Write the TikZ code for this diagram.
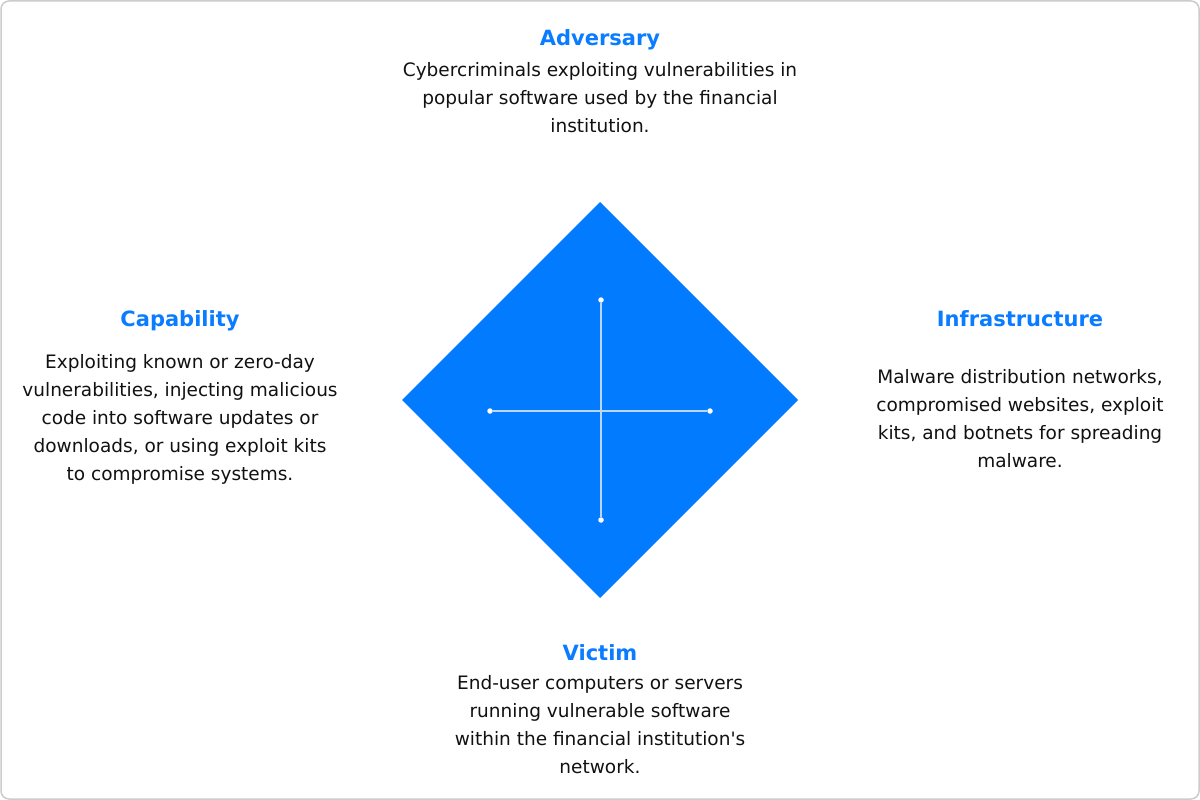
\documentclass[tikz,border=0pt]{standalone}
\usepackage{fontspec}
\setmainfont{DejaVu Sans}
\definecolor{dblue}{HTML}{037BFF}
\definecolor{tblue}{HTML}{0A7CFF}
\definecolor{txt}{HTML}{111111}
\definecolor{frame}{HTML}{CCCCCC}
\definecolor{crossc}{HTML}{B8D6FF}
\begin{document}
\begin{tikzpicture}[x=1pt,y=-1pt,
  title/.style={anchor=base,inner sep=0pt,text=tblue,font=\fontsize{21}{26}\selectfont\bfseries},
  body/.style={anchor=north,inner sep=0pt,align=center,text=txt,font=\fontsize{18.5}{28}\selectfont},
  dot/.style={circle,fill=white,inner sep=0pt,minimum size=5.5pt}]
\useasboundingbox (0,0) rectangle (1200,800);
\draw[frame,line width=1.5pt,rounded corners=8pt] (1,1) rectangle (1199,799);
% diamond
\fill[dblue] (600,202) -- (798,400) -- (600,598) -- (402,400) -- cycle;
\node[dot] (t) at (601,300) {};
\node[dot] (b) at (601,520) {};
\node[dot] (l) at (490,411) {};
\node[dot] (r) at (710,411) {};
\draw[crossc,line width=1.2pt] (t) -- (b);
\draw[crossc,line width=1.2pt] (l) -- (r);
% texts
\node[title] (advt) at (600,46) {Adversary};
\node[body] (advb) at (600,62) {Cybercriminals exploiting vulnerabilities in\\popular software used by the financial\\institution.};
\node[title] (capt) at (180,326) {Capability};
\node[body] (capb) at (180,354.5) {Exploiting known or zero-day\\vulnerabilities, injecting malicious\\code into software updates or\\downloads, or using exploit kits\\to compromise systems.};
\node[title] (inft) at (1020,326) {Infrastructure};
\node[body] (infb) at (1020,369.5) {Malware distribution networks,\\compromised websites, exploit\\kits, and botnets for spreading\\malware.};
\node[title] (vict) at (600,660) {Victim};
\node[body] (vicb) at (600,675.5) {End-user computers or servers\\running vulnerable software\\within the financial institution\textquotesingle s\\network.};
\end{tikzpicture}
\end{document}
